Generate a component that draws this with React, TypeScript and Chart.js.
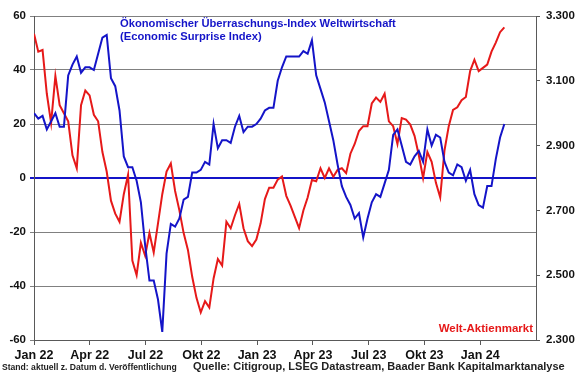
import { useEffect, useRef } from 'react';
import { Chart, registerables } from 'chart.js';

Chart.register(...registerables);

// Quarter tick labels (German month abbreviations)
const tickLabels = ['Jan 22', 'Apr 22', 'Jul 22', 'Okt 22', 'Jan 23', 'Apr 23', 'Jul 23', 'Okt 23', 'Jan 24'];

// Weekly readings starting Jan 2022
// Citi Economic Surprise Index, global (left axis)
const surpriseIndex = [
  24, 22, 23, 18, 21, 24, 19, 19, 38, 42,
  45, 39, 41, 41, 40, 46, 52, 53, 37, 34,
  25, 8, 4, 4, -1, -9, -25, -38, -38, -45,
  -57, -28, -17, -18, -15, -8, -7, 2, 2, 3,
  6, 5, 20, 11, 14, 14, 13, 19, 23, 17,
  19, 19, 20, 22, 25, 26, 26, 36, 41, 45,
  45, 45, 45, 47, 46, 51, 38, 33, 28, 21,
  14, 5, -3, -7, -10, -15, -13, -22, -15, -9,
  -6, -7, -2, 3, 16, 18, 12, 6, 5, 8,
  10, 6, 18, 12, 16, 15, 6, 2, 1, 5,
  4, -1, 3, -6, -10, -11, -3, -3, 7, 15,
  20,
];

// World equity market index (right axis)
const worldEquity = [
  3245, 3190, 3195, 3060, 2970, 3115, 3025, 3000, 2975, 2870,
  2830, 3025, 3070, 3055, 2995, 2975, 2880, 2820, 2730, 2690,
  2665, 2750, 2810, 2545, 2500, 2600, 2560, 2630, 2570, 2660,
  2750, 2820, 2845, 2760, 2700, 2630, 2578, 2495, 2430, 2385,
  2420, 2400, 2490, 2550, 2530, 2665, 2645, 2685, 2720, 2645,
  2605, 2590, 2610, 2660, 2735, 2770, 2770, 2795, 2805, 2745,
  2715, 2680, 2645, 2700, 2740, 2794, 2790, 2830, 2800, 2830,
  2804, 2825, 2830, 2815, 2875, 2905, 2945, 2960, 2960, 3030,
  3048, 3035, 3060, 2975, 2960, 2905, 2985, 2980, 2965, 2930,
  2870, 2800, 2880, 2850, 2785, 2740, 2885, 2960, 3010, 3018,
  3040, 3050, 3130, 3165, 3130, 3140, 3150, 3190, 3218, 3250,
  3265,
];

const seriesNames = ['Ökonomischer Überraschungs-Index Weltwirtschaft', 'Welt-Aktienmarkt'];

const WEEKS_PER_MONTH = 52.18 / 12;
const BLUE = '#1414c8';
const RED = '#e61919';
const FONT = 'Arial, "Liberation Sans", sans-serif';

const annotations = {
  id: 'annotations',
  afterDraw(chart: any) {
    const { ctx, chartArea } = chart;
    ctx.save();
    ctx.textBaseline = 'middle';
    ctx.fillStyle = BLUE;
    ctx.font = `bold 11.2px ${FONT}`;
    ctx.textAlign = 'left';
    ctx.fillText(seriesNames[0], 120, 24);
    ctx.fillText('(Economic Surprise Index)', 120, 37);
    ctx.fillStyle = RED;
    ctx.font = `bold 11.5px ${FONT}`;
    ctx.textAlign = 'right';
    ctx.fillText(seriesNames[1], chartArea.right - 3, 329);
    ctx.fillStyle = '#222222';
    ctx.textAlign = 'left';
    ctx.font = `bold 8.6px ${FONT}`;
    ctx.fillText('Stand: aktuell z. Datum d. Veröffentlichung', 2, 368);
    ctx.font = `bold 11px ${FONT}`;
    ctx.fillText('Quelle: Citigroup, LSEG Datastream, Baader Bank Kapitalmarktanalyse', 193, 367);
    ctx.restore();
  },
};

export default function App() {
  const ref = useRef<HTMLCanvasElement | null>(null);

  useEffect(() => {
    if (!ref.current) return;
    const blueData = surpriseIndex.map((v, i) => ({ x: i / WEEKS_PER_MONTH, y: v }));
    const redData = worldEquity.map((v, i) => ({ x: i / WEEKS_PER_MONTH, y: v }));
    const chart = new Chart(ref.current, {
      type: 'line',
      data: {
        datasets: [
          {
            label: seriesNames[0],
            data: blueData,
            borderColor: BLUE,
            borderWidth: 2,
            pointRadius: 0,
            yAxisID: 'y',
          },
          {
            label: seriesNames[1],
            data: redData,
            borderColor: RED,
            borderWidth: 2,
            pointRadius: 0,
            yAxisID: 'y2',
          },
        ],
      },
      options: {
        responsive: false,
        animation: false,
        layout: { padding: { top: 16, left: 0, right: 0, bottom: 0 } },
        plugins: { legend: { display: false }, tooltip: { enabled: false } },
        scales: {
          x: {
            type: 'linear',
            min: 0,
            max: 27,
            afterBuildTicks: (scale: any) => {
              scale.ticks = tickLabels.map((_, i) => ({ value: i * 3 }));
            },
            afterFit: (scale: any) => {
              scale.height = 35;
            },
            ticks: {
              autoSkip: false,
              maxRotation: 0,
              padding: 3,
              color: '#111111',
              font: { family: FONT, size: 12.5, weight: 'bold' },
              callback: (v: any) => tickLabels[Math.round(Number(v) / 3)] ?? '',
            },
            grid: { drawOnChartArea: false, tickLength: 5, color: '#595959' },
            border: { display: true, color: '#595959' },
          },
          y: {
            position: 'left',
            min: -60,
            max: 60,
            afterFit: (scale: any) => {
              scale.width = 34;
            },
            ticks: {
              stepSize: 20,
              padding: 4,
              color: '#111111',
              font: { family: FONT, size: 11.5, weight: 'bold' },
            },
            grid: {
              tickLength: 4,
              color: (c: any) => (c.tick && c.tick.value === 0 ? BLUE : '#808080'),
              lineWidth: (c: any) => (c.tick && c.tick.value === 0 ? 2 : 1),
            },
            border: { display: true, color: '#595959' },
          },
          y2: {
            position: 'right',
            min: 2300,
            max: 3300,
            afterFit: (scale: any) => {
              scale.width = 44;
            },
            ticks: {
              stepSize: 200,
              padding: 6,
              color: '#111111',
              font: { family: FONT, size: 11.5, weight: 'bold' },
              callback: (v: any) => Number(v).toLocaleString('de-DE', { minimumFractionDigits: 0 }),
            },
            grid: { drawOnChartArea: false, tickLength: 4, color: '#595959' },
            border: { display: true, color: '#595959' },
          },
        },
      },
      plugins: [annotations],
    });
    return () => chart.destroy();
  }, []);

  return (
    <div style={{ position: 'absolute', left: 0, top: 0, width: 580, height: 375, background: '#ffffff' }}>
      <canvas ref={ref} width={580} height={375} />
    </div>
  );
}
